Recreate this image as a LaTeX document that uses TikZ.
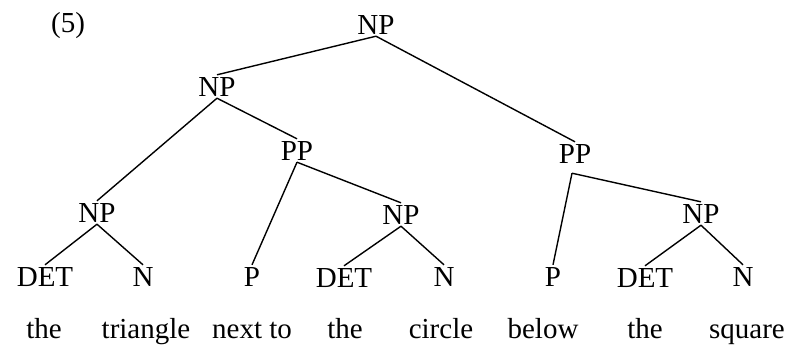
\documentclass[tikz,border=0pt]{standalone}
\usepackage{fontspec}
\setmainfont{Liberation Serif}
\begin{document}
\begin{tikzpicture}[x=1pt,y=-1pt,
  lab/.style={anchor=base,inner sep=2pt,text depth=0pt,font=\fontsize{29}{33}\selectfont},
  word/.style={anchor=base,inner sep=2pt,font=\fontsize{29}{33}\selectfont},
  edge/.style={line width=1.4pt}]
\useasboundingbox[fill=white] (0,0) rectangle (804,351);
\node[word] (num) at (68,32) {(5)};
% phrase nodes
\node[lab] (top) at (376,34) {NP};
\node[lab] (np2) at (217,96) {NP};
\node[lab] (ppL) at (297,160) {PP};
\node[lab] (ppR) at (575,163) {PP};
\node[lab] (npA) at (97,222) {NP};
\node[lab] (npB) at (401,224) {NP};
\node[lab] (npC) at (701,223) {NP};
% preterminals
\node[lab] (detA) at (45,286) {DET};
\node[lab] (nA) at (143,286) {N};
\node[lab] (pA) at (252,286) {P};
\node[lab] (detB) at (344,287) {DET};
\node[lab] (nB) at (444,286) {N};
\node[lab] (pB) at (553,286) {P};
\node[lab] (detC) at (645,287) {DET};
\node[lab] (nC) at (743,286) {N};
% words
\node[word] (w1) at (44,338) {the};
\node[word] (w2) at (146,338) {triangle};
\node[word] (w3) at (252,338) {next to};
\node[word] (w4) at (345,338) {the};
\node[word] (w5) at (441,338) {circle};
\node[word] (w6) at (543,338) {below};
\node[word] (w7) at (645,338) {the};
\node[word] (w8) at (747,338) {square};
% connectors
\coordinate (ppRb) at ([shift={(-3pt,-8pt)}]ppR.south);
\draw[edge] (top.south) -- (np2.north);
\draw[edge] (top.south) -- (ppR.north);
\draw[edge] (np2.south) -- (npA.north);
\draw[edge] (np2.south) -- (ppL.north);
\draw[edge] (ppL.south) -- (pA.north);
\draw[edge] (ppL.south) -- (npB.north);
\draw[edge] (ppRb) -- (pB.north);
\draw[edge] (ppRb) -- (npC.north);
\draw[edge] (npA.south) -- (detA.north);
\draw[edge] (npA.south) -- (nA.north);
\draw[edge] (npB.south) -- (detB.north);
\draw[edge] (npB.south) -- (nB.north);
\draw[edge] (npC.south) -- (detC.north);
\draw[edge] (npC.south) -- (nC.north);
\end{tikzpicture}
\end{document}
